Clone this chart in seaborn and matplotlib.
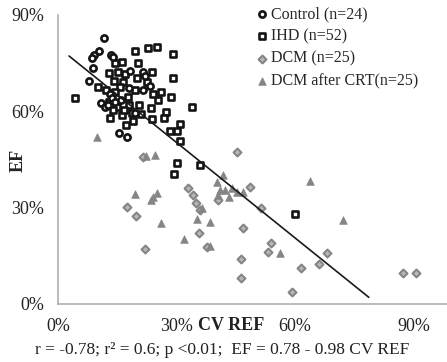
import numpy as np
import pandas as pd
import seaborn as sns
import matplotlib.pyplot as plt

# ---- data (CV REF, EF as fractions) ----
control_cv = [0.116, 0.104, 0.091, 0.086, 0.088, 0.079, 0.133, 0.140, 0.110, 0.118,
              0.126, 0.132, 0.138, 0.145, 0.180, 0.154, 0.175, 0.182, 0.215, 0.220,
              0.233, 0.215, 0.160, 0.195]
control_ef = [0.827, 0.787, 0.774, 0.765, 0.734, 0.693, 0.776, 0.768, 0.625, 0.615,
              0.620, 0.655, 0.640, 0.630, 0.672, 0.532, 0.520, 0.727, 0.721, 0.710,
              0.680, 0.665, 0.635, 0.595]

ihd_cv = [0.043, 0.101, 0.195, 0.228, 0.250, 0.291, 0.162, 0.202, 0.144, 0.152,
          0.238, 0.291, 0.142, 0.165, 0.157, 0.286, 0.253, 0.177, 0.339, 0.205,
          0.235, 0.273, 0.187, 0.210, 0.238, 0.268, 0.132, 0.162, 0.172, 0.309,
          0.284, 0.301, 0.309, 0.301, 0.360, 0.294, 0.600, 0.130, 0.145, 0.170,
          0.128, 0.150, 0.195, 0.225, 0.180, 0.140, 0.200, 0.122, 0.168, 0.260,
          0.240, 0.190]
ihd_ef = [0.643, 0.675, 0.787, 0.796, 0.799, 0.777, 0.755, 0.749, 0.749, 0.721,
          0.721, 0.703, 0.693, 0.690, 0.675, 0.644, 0.634, 0.644, 0.612, 0.619,
          0.609, 0.597, 0.594, 0.591, 0.575, 0.578, 0.578, 0.588, 0.557, 0.560,
          0.538, 0.538, 0.507, 0.438, 0.432, 0.404, 0.280, 0.720, 0.660, 0.715,
          0.628, 0.615, 0.665, 0.690, 0.620, 0.605, 0.705, 0.665, 0.605, 0.660,
          0.655, 0.570]

dcm_cv = [0.215, 0.329, 0.342, 0.349, 0.360, 0.175, 0.198, 0.220, 0.357, 0.377,
          0.405, 0.453, 0.486, 0.514, 0.468, 0.539, 0.532, 0.463, 0.463, 0.593,
          0.615, 0.662, 0.681, 0.874, 0.906]
dcm_ef = [0.457, 0.361, 0.339, 0.314, 0.292, 0.302, 0.274, 0.171, 0.221, 0.177,
          0.323, 0.473, 0.364, 0.298, 0.236, 0.190, 0.162, 0.140, 0.081, 0.037,
          0.112, 0.124, 0.159, 0.096, 0.096]

crt_cv = [0.099, 0.223, 0.245, 0.418, 0.195, 0.241, 0.235, 0.261, 0.319, 0.352,
          0.385, 0.410, 0.423, 0.433, 0.453, 0.468, 0.638, 0.722, 0.562, 0.385,
          0.403, 0.440, 0.250, 0.365, 0.405]
crt_ef = [0.520, 0.460, 0.463, 0.401, 0.342, 0.333, 0.325, 0.252, 0.202, 0.264,
          0.255, 0.354, 0.354, 0.333, 0.348, 0.348, 0.382, 0.261, 0.159, 0.180,
          0.380, 0.360, 0.345, 0.300, 0.340]

# fitted line as drawn in the picture
fit_intercept = 0.80
fit_slope = -0.99
fit_range = [0.028, 0.787]

labels = ["Control (n=24)", "IHD (n=52)", "DCM (n=25)", "DCM after CRT(n=25)"]
x_ticks = [0.0, 0.3, 0.6, 0.9]
y_ticks = [0.0, 0.3, 0.6, 0.9]

sns.set_style("white")
plt.rcParams["font.family"] = ["Liberation Serif", "DejaVu Serif"]

fig = plt.figure(figsize=(4.47, 3.62), dpi=100)
ax = fig.add_axes([58 / 447, 1 - 304 / 362, (447 - 58) / 447, (304 - 15) / 362])

# drawing order: diamonds & triangles underneath, then squares, circles
groups = [
    (dcm_cv, dcm_ef, labels[2], "D", 16, "#b8b8b8", "#858585", 1.5),
    (crt_cv, crt_ef, labels[3], "^", 30, "#858585", "#858585", 0.5),
    (ihd_cv, ihd_ef, labels[1], "s", 18, "white", "#141414", 1.9),
    (control_cv, control_ef, labels[0], "o", 20, "white", "#141414", 1.9),
]
for xs, ys, lab, mk, sz, fc, ec, lw in groups:
    df = pd.DataFrame({"cv": xs, "ef": ys})
    sns.scatterplot(data=df, x="cv", y="ef", marker=mk, s=sz, color=fc,
                    edgecolor=ec, linewidth=lw, label=lab, ax=ax, zorder=3)

fit_x = np.array(fit_range)
sns.lineplot(x=fit_x, y=fit_intercept + fit_slope * fit_x, color="#1a1a1a",
             linewidth=1.2, ax=ax, zorder=4)

ax.set_xlim(0, 0.985)
ax.set_ylim(0, 0.9)
ax.set_xticks(x_ticks)
ax.set_yticks(y_ticks)
ax.set_xticklabels([f"{int(round(t * 100))}%" for t in x_ticks], fontsize=13)
ax.set_yticklabels([f"{int(round(t * 100))}%" for t in y_ticks], fontsize=13)
ax.tick_params(axis="both", direction="out", length=4, width=1, color="#b0b0b0",
               pad=6, labelcolor="#222222")
for side in ["top", "right"]:
    ax.spines[side].set_visible(False)
for side in ["left", "bottom"]:
    ax.spines[side].set_color("#b0b0b0")
    ax.spines[side].set_linewidth(1.2)
ax.set_xlabel("")
ax.set_ylabel("")

# reorder legend to Control, IHD, DCM, CRT
handles, labs = ax.get_legend_handles_labels()
order = [labs.index(l) for l in labels]
ax.legend([handles[i] for i in order], labels, loc="upper left",
          bbox_to_anchor=(257 / 447, 1 - 6 / 362), bbox_transform=fig.transFigure,
          frameon=False, fontsize=11.5, handlelength=0.6, handletextpad=0.3,
          labelspacing=0.4, borderpad=0, borderaxespad=0)

fig.text(18 / 447, 1 - 160 / 362, "EF", rotation=90, fontsize=13, fontweight="bold",
         ha="center", va="center", color="#222222")
fig.text(231 / 447, 1 - 326 / 362, "CV REF", fontsize=13, fontweight="bold",
         ha="center", va="center", color="#222222")
fig.text(222 / 447, 1 - 350 / 362,
         "r = -0.78; r\u00b2 = 0.6; p <0.01;  EF = 0.78 - 0.98 CV REF",
         fontsize=12.5, ha="center", va="center", color="#222222")

fig.savefig("out.png", dpi=100)
